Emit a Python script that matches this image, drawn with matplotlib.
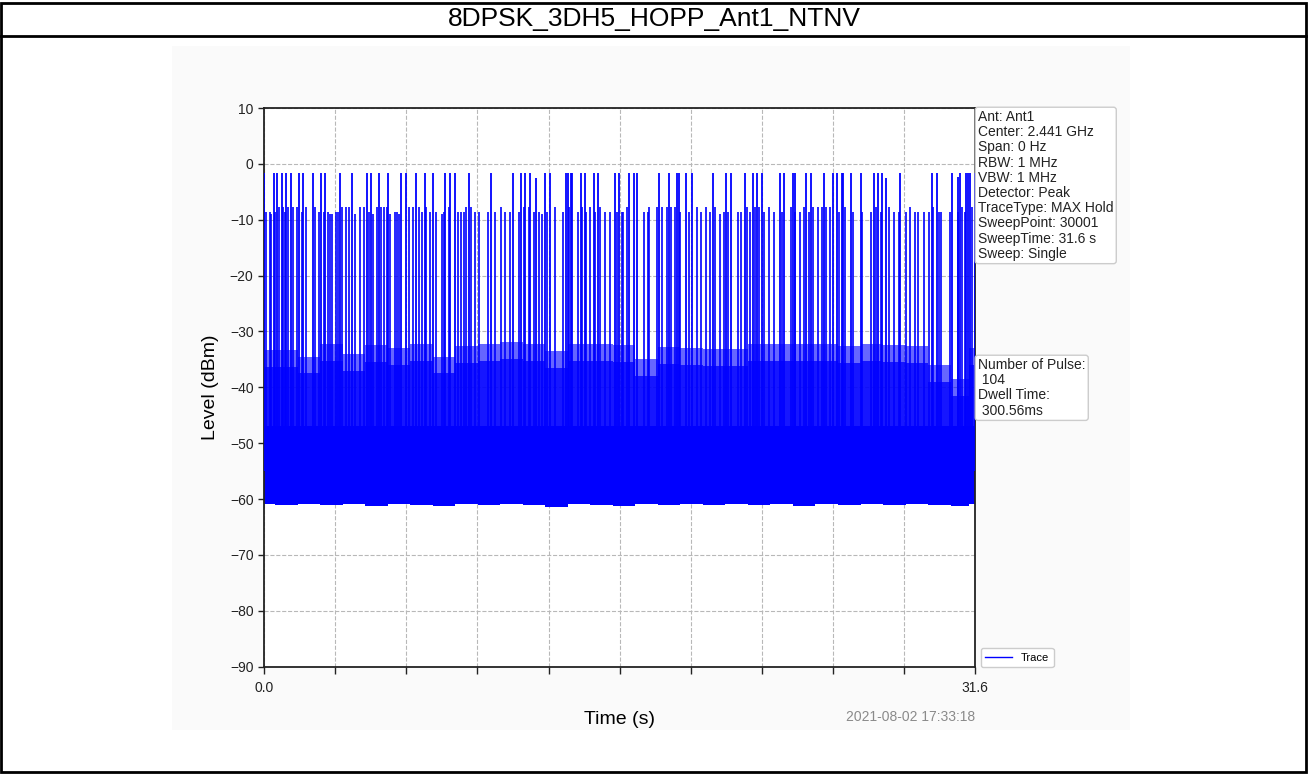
import matplotlib
matplotlib.use("Agg")
import matplotlib.pyplot as plt
import numpy as np
from matplotlib.lines import Line2D
from matplotlib.patches import Rectangle

plt.rcParams['font.family'] = ['Liberation Sans', 'DejaVu Sans']

# ---------------- data ----------------
title = "8DPSK_3DH5_HOPP_Ant1_NTNV"
sweep_time = 31.6

# tall pulses (s) and their peak levels (dBm)
peak_times = [0.01, 0.43, 0.56, 0.80, 0.99, 1.21, 1.54, 1.75, 2.16, 2.55, 2.72,
              3.38, 3.91, 4.59, 4.75, 5.12, 5.51, 6.09, 6.30, 6.74, 7.14, 7.52,
              8.05, 8.28, 8.47, 9.09, 10.10, 11.05, 11.43, 11.61, 11.82, 12.07,
              12.50, 12.72, 13.43, 13.49, 13.64, 13.68, 14.10, 14.25, 14.65, 14.83,
              15.61, 15.76, 16.20, 16.45, 16.58, 17.56, 17.98, 18.36, 18.42, 18.75,
              19.01, 19.93, 20.54, 20.75, 21.36, 21.71, 21.90, 22.12, 22.92, 23.11,
              23.50, 23.58, 24.08, 24.30, 24.88, 25.26, 25.46, 25.66, 25.71, 26.08,
              26.54, 27.09, 27.29, 27.46, 27.63, 28.26, 29.68, 29.90, 30.57, 30.82,
              30.91, 31.19, 31.26, 31.38, 31.58]
peak_levels = [-1.7, -1.7, -1.7, -1.7, -1.7, -1.7, -1.7, -1.7, -1.7, -1.7, -1.7,
               -1.7, -1.7, -1.7, -1.7, -1.7, -1.7, -1.7, -1.7, -1.7, -1.7, -1.7,
               -1.7, -1.7, -1.7, -1.7, -1.7, -1.7, -1.7, -1.7, -1.7, -2.5,
               -1.7, -1.7, -1.7, -1.7, -1.7, -1.7, -1.7, -1.7, -1.7, -1.7,
               -1.7, -1.7, -1.7, -1.7, -1.7, -1.7, -1.7, -1.7, -1.7, -1.7,
               -1.7, -1.7, -1.7, -1.7, -1.7, -1.7, -1.7, -1.7, -1.7, -1.7,
               -1.7, -1.7, -1.7, -1.7, -1.7, -1.7, -1.7, -1.7, -1.7, -1.7,
               -1.7, -1.7, -1.7, -1.7, -2.5, -1.7, -1.7, -1.7, -1.7, -2.3,
               -1.7, -1.7, -1.7, -1.7, -1.7]

# second-level bursts (s) and their levels (dBm)
hop_times = [0.09, 0.27, 0.33, 0.47, 0.65, 0.86, 0.92, 1.05, 1.27, 1.45, 1.67, 1.87,
             2.28, 2.46, 2.65, 2.83, 2.92, 3.02, 3.20, 3.27, 3.46, 3.63, 3.79, 4.03,
             4.26, 4.43, 4.65, 4.84, 5.03, 5.21, 5.32, 5.48, 5.61, 5.80, 5.89, 5.98,
             6.43, 6.60, 6.87, 7.02, 7.20, 7.39, 7.64, 7.91,
             7.98, 8.20, 8.62, 8.77, 8.87, 8.99, 9.20, 9.36, 9.54, 9.95, 10.28, 10.54,
             10.72, 10.94, 11.34, 11.54, 11.76, 11.99, 12.20, 12.35, 12.57, 12.94,
             13.28, 13.53, 13.93, 14.13, 14.30, 14.50, 14.72, 14.94, 15.16, 15.36,
             15.68, 15.90,
             15.93, 16.11, 16.90, 17.04, 17.12, 17.44, 17.67, 17.90, 18.08, 18.27,
             18.50, 18.87, 19.22, 19.43, 19.65, 19.83, 20.05, 20.24, 20.42, 20.61,
             21.04, 21.21, 21.46, 21.61, 21.80, 22.00, 22.21, 22.42, 22.64, 23.01,
             23.41, 23.60, 23.80,
             23.98, 24.20, 24.39, 24.61, 24.79, 24.97, 25.16, 25.56, 25.83, 26.15,
             26.57, 26.95, 27.17, 27.40, 27.75, 27.97, 28.20, 28.52, 28.71, 28.94,
             29.05, 29.31, 29.53, 29.72, 29.97, 30.09, 30.49, 30.83, 31.01, 31.16,
             31.45]
hop_levels = [-8.7, -8.7, -8.9, -8.7, -7.8, -7.8, -8.7, -7.8, -7.8, -7.8, -8.7, -7.8,
              -7.8, -8.7, -8.7, -8.7, -8.9, -8.9, -8.7, -8.7, -7.8, -7.8, -7.8, -8.9,
              -7.8, -7.8, -8.7, -8.9, -7.8, -7.8, -7.8, -7.8, -8.9, -8.7, -8.7, -8.9,
              -7.8, -7.8, -7.8, -8.7, -7.8, -8.7, -8.7, -8.9,
              -8.7, -7.8, -8.7, -8.7, -8.7, -7.8, -7.8, -8.7, -8.7, -8.7, -8.7, -7.8,
              -8.7, -8.7, -8.7, -7.8, -7.8, -8.7, -8.7, -8.9, -8.7, -7.8,
              -8.7, -7.8, -8.7, -7.8, -8.7, -7.8, -8.7, -7.8, -8.7, -8.7,
              -8.7, -8.7,
              -8.7, -7.8, -8.7, -8.7, -7.8, -7.8, -7.8, -7.8, -7.8, -7.8,
              -8.7, -8.7, -7.8, -8.7, -7.8, -8.7, -7.8, -9.0, -8.7, -8.7,
              -8.7, -8.7, -7.8, -8.7, -7.8, -7.8, -8.7, -7.8, -8.7, -8.7,
              -7.8, -8.7, -8.7,
              -7.8, -8.7, -7.8, -7.8, -7.8, -7.8, -7.8, -8.7, -7.8, -8.7,
              -8.7, -8.7, -7.8, -8.7, -7.8, -8.7, -8.7, -8.7, -7.8, -8.7,
              -8.7, -8.7, -8.7, -7.8, -8.7, -8.7, -8.7, -8.7, -7.8, -8.7,
              -7.8]

# noise band envelope (s, dBm)
band_times = [0, 1, 2, 3, 4, 5, 6, 7, 8, 9, 10, 11, 12, 13, 14, 15, 16, 17, 18, 19,
              20, 21, 22, 23, 24, 25, 26, 27, 28, 29, 30, 31, 31.6]
band_top = [-33.3, -33.3, -34.5, -32.3, -34.0, -32.5, -33.0, -32.2, -34.5, -32.6,
            -32.2, -31.9, -32.2, -33.5, -32.3, -32.3, -32.5, -35.0, -32.8, -33.0,
            -33.2, -33.2, -32.3, -32.2, -32.3, -32.2, -32.6, -32.2, -32.4, -32.6,
            -36.0, -38.5, -33.0]
band_floor = [-60.9, -61.0, -60.8, -61.1, -60.9, -61.2, -60.8, -61.0, -61.3, -60.9,
              -61.0, -60.8, -61.1, -61.4, -60.9, -61.0, -61.2, -60.8, -61.0, -60.9,
              -61.1, -60.8, -61.0, -60.9, -61.2, -60.8, -61.0, -60.9, -61.1, -60.8,
              -61.0, -61.2, -60.9]
band_core = -47.0

y_ticks = [-90, -80, -70, -60, -50, -40, -30, -20, -10, 0, 10]
x_tick_labels = ['0.0', '', '', '', '', '', '', '', '', '', '31.6']

info_lines = ["Ant: Ant1", "Center: 2.441 GHz", "Span: 0 Hz", "RBW: 1 MHz",
              "VBW: 1 MHz", "Detector: Peak", "TraceType: MAX Hold",
              "SweepPoint: 30001", "SweepTime: 31.6 s", "Sweep: Single"]
pulse_lines = ["Number of Pulse:", " 104", "Dwell Time:", " 300.56ms"]
timestamp = "2021-08-02 17:33:18"

# ---------------- figure ----------------
W, H = 1308, 774
fig = plt.figure(figsize=(W / 100, H / 100), dpi=100)
fig.patch.set_facecolor('white')


def fx(px):
    return px / W


def fy(py):
    return 1 - py / H


# outer frame + title bar
fig.add_artist(Rectangle((fx(1), fy(772)), fx(1306) - fx(1), fy(3) - fy(772),
                         fill=False, lw=2, ec='black', transform=fig.transFigure, zorder=5))
fig.add_artist(Line2D([fx(1), fx(1306)], [fy(36), fy(36)], lw=2, color='black',
                      transform=fig.transFigure, zorder=5))
fig.text(0.5, fy(19), title, ha='center', va='center', fontsize=19)

# inner figure background
fig.add_artist(Rectangle((fx(172), fy(730)), fx(1130) - fx(172), fy(46) - fy(730),
                         fc='#fafafa', ec='none', transform=fig.transFigure, zorder=-5))

ax = fig.add_axes([fx(264), fy(666.7), (975.3 - 264) / W, (666.7 - 108) / H])
ax.set_facecolor('white')

blue = '#0000ff'
bt = np.array(band_times)
top = np.array(band_top)
flo = np.array(band_floor)
ax.fill_between(bt, flo, top, color=blue, alpha=0.6, lw=0, step='mid', zorder=2)
ax.fill_between(bt, flo, top - 3.0, color=blue, alpha=0.78, lw=0, step='mid', zorder=2)
ax.fill_between(bt, flo, band_core, color=blue, lw=0, step='mid', zorder=2)
ax.vlines(hop_times, -55, hop_levels, color=blue, lw=1.2, zorder=3)
ax.vlines(peak_times, -55, peak_levels, color=blue, lw=1.3, zorder=3)

ax.set_xlim(0, sweep_time)
ax.set_ylim(-90, 10)
ax.set_yticks(y_ticks)
ax.set_xticks(np.linspace(0, sweep_time, len(x_tick_labels)))
ax.set_xticklabels(x_tick_labels)
ax.tick_params(axis='both', labelsize=10, direction='out', length=4, width=1,
               colors='#222222')
ax.tick_params(axis='x', length=5, pad=5)
ax.grid(True, ls='--', color='#b8b8b8', lw=0.8)
ax.set_axisbelow(True)
for s in ax.spines.values():
    s.set_color('#222222')
    s.set_linewidth(1.3)

ax.set_ylabel('Level (dBm)', fontsize=14, labelpad=8)
ax.set_xlabel('Time (s)', fontsize=14, labelpad=12)

# info boxes
box = dict(boxstyle='round,pad=0.2', fc='white', ec='#cccccc', lw=1)
fig.text(fx(978), fy(110), "\n".join(info_lines), ha='left', va='top', fontsize=10,
         linespacing=1.11, color='#222222', bbox=box)
fig.text(fx(978), fy(358), "\n".join(pulse_lines), ha='left', va='top', fontsize=10,
         linespacing=1.11, color='#222222', bbox=box)

proxy = Line2D([], [], color=blue, lw=1, label='Trace')
ax.legend(handles=[proxy], loc='lower left', bbox_to_anchor=(fx(981), fy(667)),
          bbox_transform=fig.transFigure, borderaxespad=0, fontsize=8, fancybox=True,
          edgecolor='#cccccc', framealpha=1, handlelength=2.4)

fig.text(fx(975), fy(717), timestamp, ha='right', va='center', fontsize=10,
         color='#8a8a8a')

fig.savefig('out.png', dpi=100)
